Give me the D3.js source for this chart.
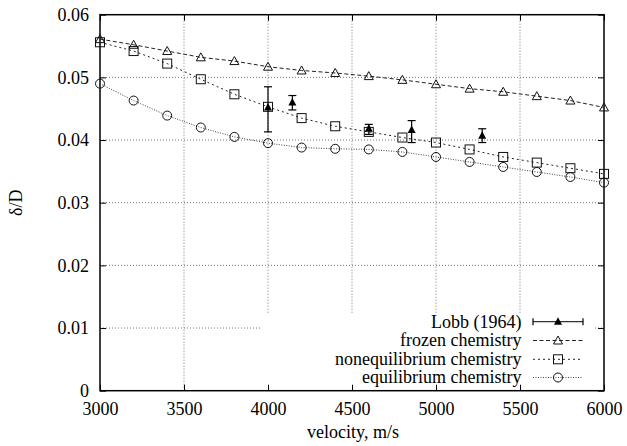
<!DOCTYPE html>
<html>
<head>
  <meta charset="utf-8">
  <title>Shock standoff distance</title>
  <script src="https://d3js.org/d3.v7.min.js"></script>
  <style>
    body { margin: 0; background: #fff; }
    text { font-family: "Liberation Serif", "Times New Roman", serif; font-size: 18px; fill: #000; }
    .grid line { stroke: #777; stroke-width: 1; stroke-dasharray: 1,2; }
  </style>
</head>
<body>
  <script>
    // model curves, sampled every 200 m/s
    var velocity = [3000, 3200, 3400, 3600, 3800, 4000, 4200, 4400, 4600, 4800, 5000, 5200, 5400, 5600, 5800, 6000];
    var frozen  = [0.0561, 0.0552, 0.0542, 0.0532, 0.0526, 0.0517, 0.0511, 0.0507, 0.0502, 0.0496, 0.0489, 0.0482, 0.0477, 0.0470, 0.0463, 0.0452];
    var noneq   = [0.0556, 0.0542, 0.0522, 0.0497, 0.0473, 0.0453, 0.0435, 0.0422, 0.0413, 0.0404, 0.0396, 0.0385, 0.0373, 0.0364, 0.0355, 0.0346];
    var equil   = [0.0490, 0.0463, 0.0439, 0.0420, 0.0405, 0.0395, 0.0388, 0.0386, 0.0385, 0.0381, 0.0373, 0.0365, 0.0357, 0.0349, 0.0341, 0.0332];

    // Lobb (1964) experiment
    var lobbV  = [4000, 4145, 4600, 4855, 5275];
    var lobbY  = [0.0452, 0.0460, 0.0418, 0.0416, 0.0407];
    var lobbLo = [0.0413, 0.0448, 0.0409, 0.0396, 0.0396];
    var lobbHi = [0.0485, 0.0471, 0.0425, 0.0431, 0.0418];

    var xTicks = [3000, 3500, 4000, 4500, 5000, 5500, 6000];
    var yTicks = [0, 0.01, 0.02, 0.03, 0.04, 0.05, 0.06];
    var yTickLabels = ["0", "0.01", "0.02", "0.03", "0.04", "0.05", "0.06"];
    var legendLabels = ["Lobb (1964)", "frozen chemistry", "nonequilibrium chemistry", "equilibrium chemistry"];

    var W = 627, H = 446;
    var pL = 100, pR = 604, pT = 14.7, pB = 390.7;

    var x = d3.scaleLinear().domain([3000, 6000]).range([pL, pR]);
    var y = d3.scaleLinear().domain([0, 0.06]).range([pB, pT]);

    var svg = d3.select("body").append("svg")
        .attr("width", W)
        .attr("height", H);

    // grid
    var grid = svg.append("g").attr("class", "grid");
    grid.selectAll(".vx")
        .data(xTicks.slice(1, -1))
      .enter().append("line")
        .attr("x1", function(d) { return x(d); })
        .attr("x2", function(d) { return x(d); })
        .attr("y1", pT)
        .attr("y2", pB);
    grid.selectAll(".hy")
        .data(yTicks.slice(1, -1))
      .enter().append("line")
        .attr("x1", pL)
        .attr("x2", pR)
        .attr("y1", function(d) { return y(d); })
        .attr("y2", function(d) { return y(d); });

    // legend box hides the grid behind it
    svg.append("rect")
        .attr("x", 262).attr("y", 313)
        .attr("width", 331).attr("height", pB - 313)
        .attr("fill", "#fff");

    // axes with inward ticks (mirrored)
    var xb = svg.append("g")
        .attr("transform", "translate(0," + pB + ")")
        .call(d3.axisBottom(x).tickValues(xTicks).tickSize(-6).tickPadding(11.5).tickFormat(d3.format("d")));
    var xt = svg.append("g")
        .attr("transform", "translate(0," + pT + ")")
        .call(d3.axisTop(x).tickValues(xTicks).tickSize(-6).tickFormat(""));
    var yl = svg.append("g")
        .attr("transform", "translate(" + pL + ",0)")
        .call(d3.axisLeft(y).tickValues(yTicks).tickSize(-6).tickPadding(11)
          .tickFormat(function(d, i) { return yTickLabels[i]; }));
    var yr = svg.append("g")
        .attr("transform", "translate(" + pR + ",0)")
        .call(d3.axisRight(y).tickValues(yTicks).tickSize(-6).tickFormat(""));

    [xb, xt, yl, yr].forEach(function(g) {
      g.select(".domain").remove();
      g.selectAll("line").attr("stroke", "#000").attr("stroke-width", 1);
      g.selectAll("text")
          .attr("font-family", "Liberation Serif, serif")
          .attr("font-size", 18)
          .attr("fill", "#000");
    });

    svg.append("rect")
        .attr("x", pL).attr("y", pT)
        .attr("width", pR - pL).attr("height", pB - pT)
        .attr("fill", "none")
        .attr("stroke", "#000")
        .attr("stroke-width", 1.5);

    // axis titles
    svg.append("text")
        .attr("x", 353)
        .attr("y", 438)
        .attr("text-anchor", "middle")
        .text("velocity, m/s");
    svg.append("text")
        .attr("transform", "translate(22," + ((pT + pB) / 2) + ") rotate(-90)")
        .attr("text-anchor", "middle")
        .text("\u03B4/D");

    // series
    var series = [
      {vals: frozen, dash: "4,2.5", color: "#222", shape: "tri"},
      {vals: noneq,  dash: "2,3",   color: "#222", shape: "sq"},
      {vals: equil,  dash: "1,1.5", color: "#444", shape: "circ"}
    ];

    function marker(g, shape, color) {
      if (shape === "tri") {
        g.append("path").attr("d", "M0,-4.5L4.5,3.5L-4.5,3.5Z")
          .attr("fill", "none").attr("stroke", "#111").attr("stroke-width", 1);
      } else if (shape === "sq") {
        g.append("rect").attr("x", -4.5).attr("y", -4.5).attr("width", 9).attr("height", 9)
          .attr("fill", "none").attr("stroke", "#111").attr("stroke-width", 1);
      } else {
        g.append("circle").attr("r", 4.5)
          .attr("fill", "none").attr("stroke", "#111").attr("stroke-width", 1);
      }
    }

    var line = d3.line()
        .x(function(d, i) { return x(velocity[i]); })
        .y(function(d) { return y(d); });

    series.forEach(function(s) {
      svg.append("path")
          .datum(s.vals)
          .attr("fill", "none")
          .attr("stroke", s.color)
          .attr("stroke-width", 1)
          .attr("stroke-dasharray", s.dash)
          .attr("d", line);
      s.vals.forEach(function(v, i) {
        var g = svg.append("g").attr("transform", "translate(" + x(velocity[i]) + "," + y(v) + ")");
        marker(g, s.shape, s.color);
      });
    });

    // Lobb error bars
    lobbV.forEach(function(v, i) {
      var cx = x(v);
      var g = svg.append("g").attr("stroke", "#000").attr("stroke-width", 1.2);
      g.append("line").attr("x1", cx).attr("x2", cx).attr("y1", y(lobbLo[i])).attr("y2", y(lobbHi[i]));
      g.append("line").attr("x1", cx - 4).attr("x2", cx + 4).attr("y1", y(lobbLo[i])).attr("y2", y(lobbLo[i]));
      g.append("line").attr("x1", cx - 4).attr("x2", cx + 4).attr("y1", y(lobbHi[i])).attr("y2", y(lobbHi[i]));
      svg.append("path")
          .attr("transform", "translate(" + cx + "," + y(lobbY[i]) + ")")
          .attr("d", "M0,-4.5L4,3L-4,3Z")
          .attr("fill", "#000");
    });

    // legend
    var legY = [321.7, 340.5, 359.3, 377.5];
    var lx0 = 533, lx1 = 583, lmid = 558;
    legendLabels.forEach(function(t, i) {
      svg.append("text")
          .attr("x", 521.5)
          .attr("y", legY[i])
          .attr("dy", "0.33em")
          .attr("text-anchor", "end")
          .text(t);
      var g = svg.append("g");
      if (i === 0) {
        g.append("line").attr("x1", lx0).attr("x2", lx1).attr("y1", legY[i]).attr("y2", legY[i])
          .attr("stroke", "#333").attr("stroke-width", 1.2);
        [lx0, lx1].forEach(function(ex) {
          g.append("line").attr("x1", ex).attr("x2", ex).attr("y1", legY[i] - 3.5).attr("y2", legY[i] + 3.5)
            .attr("stroke", "#000").attr("stroke-width", 1.2);
        });
        g.append("path").attr("transform", "translate(" + lmid + "," + legY[i] + ")")
          .attr("d", "M0,-4.5L4,3L-4,3Z").attr("fill", "#000");
      } else {
        var s = series[i - 1];
        g.append("line").attr("x1", lx0).attr("x2", lx1).attr("y1", legY[i]).attr("y2", legY[i])
          .attr("stroke", s.color).attr("stroke-width", 1).attr("stroke-dasharray", s.dash);
        var m = g.append("g").attr("transform", "translate(" + lmid + "," + legY[i] + ")");
        marker(m, s.shape, s.color);
      }
    });
  </script>
</body>
</html>
